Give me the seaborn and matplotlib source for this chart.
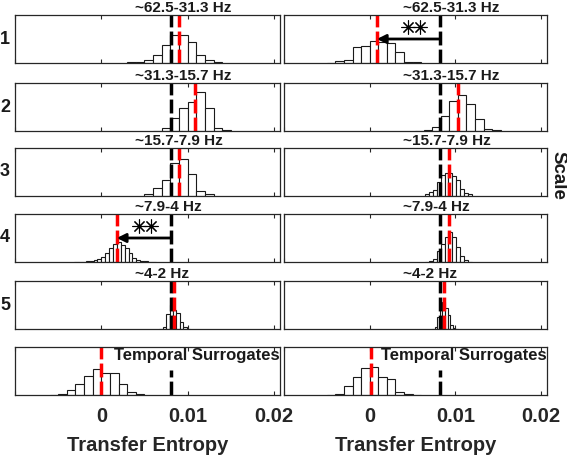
import numpy as np
import pandas as pd
import seaborn as sns
import matplotlib.pyplot as plt

sns.set_style("ticks")
plt.rcParams['font.family'] = ['Liberation Sans', 'DejaVu Sans']
plt.rcParams['font.weight'] = 'bold'

# panel titles (frequency bands) and row labels
bands = ['~62.5-31.3 Hz', '~31.3-15.7 Hz', '~15.7-7.9 Hz', '~7.9-4 Hz', '~4-2 Hz', 'Temporal Surrogates']
scale_labels = ['1', '2', '3', '4', '5']
xticks = [-0.01, 0, 0.01, 0.02]
xtick_labels = ['', '0', '0.01', '0.02']

# histograms: first bin edge, bin width, counts (in % of panel height)
left_start = [0.003, 0.006, 0.005, -0.00315, 0.0067, -0.006]
left_width = [0.001, 0.001, 0.001, 0.00045, 0.0004, 0.001]
left_counts = [
    [2, 2, 6, 16, 37, 59, 59, 43, 16, 7, 2],
    [1, 7, 28, 48, 60, 81, 48, 7, 2],
    [4, 16, 33, 68, 78, 45, 10, 4],
    [1, 1, 1, 2, 2, 4, 6, 11, 19, 29, 38, 41, 36, 30, 18, 9, 5, 3, 2, 1, 1],
    [1, 4, 32, 50, 40, 34, 15, 5, 1],
    [1, 3, 10, 23, 40, 54, 46, 45, 22, 6, 2],
]
left_obs = [0.009, 0.0108, 0.009, 0.0018, 0.0084, 0.0]
left_thresh = [0.0081, 0.0081, 0.0081, 0.0081, 0.0081, 0.0081]

right_start = [-0.005, 0.0053, 0.0065, 0.0065, 0.0073, -0.005]
right_width = [0.001, 0.001, 0.00045, 0.00045, 0.0003, 0.001]
right_counts = [
    [1, 4, 6, 34, 36, 45, 43, 42, 22, 3, 2],
    [1, 2, 8, 31, 63, 74, 56, 25, 5, 2],
    [4, 8, 12, 30, 44, 47, 47, 42, 34, 14, 6, 4],
    [1, 2, 6, 22, 38, 53, 62, 52, 32, 13, 4, 1],
    [1, 5, 26, 46, 57, 43, 29, 8, 3, 1],
    [1, 2, 18, 37, 57, 58, 37, 34, 6, 2, 1],
]
right_obs = [0.00085, 0.01035, 0.0093, 0.0093, 0.0087, 0.0002]
right_thresh = [0.0082, 0.0082, 0.0082, 0.0082, 0.0082, 0.0082]

# rows with a significant shift (arrow + stars)
left_sig = [3]
right_sig = [0]

W, H = 567, 457
fig = plt.figure(figsize=(W / 100, H / 100), dpi=100)

col_left = [15 / W, 284 / W]
col_w = [265 / W, 263 / W]
row_top = [15, 83, 148, 214, 281, 347]
panel_h = 48

columns = [
    (left_start, left_width, left_counts, left_obs, left_thresh, left_sig),
    (right_start, right_width, right_counts, right_obs, right_thresh, right_sig),
]

for c, (starts, widths, counts, obs, thresh, sig) in enumerate(columns):
    for r in range(6):
        ax = fig.add_axes([col_left[c], 1 - (row_top[r] + panel_h) / H, col_w[c], panel_h / H])
        edges = starts[r] + widths[r] * np.arange(len(counts[r]) + 1)
        df = pd.DataFrame({'te': edges[:-1] + widths[r] / 2, 'n': counts[r]})
        sns.histplot(data=df, x='te', weights='n', bins=list(edges), ax=ax,
                     color='white', edgecolor='#1a1a1a', linewidth=0.8, alpha=1)

        ymax = 0.52 if r == 5 else 1
        ax.axvline(thresh[r], ymax=ymax, color='black', lw=2.5, ls=(0, (4, 1.2)))
        ax.axvline(obs[r], color='red', lw=2.5, ls=(0, (4, 1.2)))

        if r in sig:
            ax.annotate('', xy=(obs[r], 50), xytext=(thresh[r], 50),
                        arrowprops=dict(arrowstyle='-|>', color='black', lw=2,
                                        mutation_scale=13, shrinkA=0, shrinkB=0))
            ax.plot([thresh[r] - 0.0037, thresh[r] - 0.0023], [75, 75], ls='none',
                    marker=(8, 2, 0), ms=10, mew=0.8, color='black')

        if r < 5:
            ax.text(0.0039, 101, bands[r], ha='left', va='bottom', fontsize=11,
                    fontweight='bold', color='#1a1a1a', clip_on=False)
        else:
            ax.text(0.0206, 83, bands[r], ha='right', va='center', fontsize=12,
                    fontweight='bold', color='#1a1a1a')

        ax.set_xlim(-0.01, 0.0207)
        ax.set_ylim(0, 100)
        ax.set_yticks([])
        ax.set_ylabel('')
        ax.set_xticks(xticks)
        ax.tick_params(axis='x', direction='in', top=True, bottom=True, length=3,
                       width=0.8, color='#262626', pad=9, labelsize=14.5,
                       labelbottom=(r == 5))
        if r == 5:
            ax.set_xticklabels(xtick_labels, fontweight='bold', color='#262626')
            ax.set_xlabel('Transfer Entropy', fontsize=14.5, fontweight='bold',
                          color='#262626', labelpad=7)
        else:
            ax.set_xlabel('')
        for sp in ax.spines.values():
            sp.set_visible(True)
            sp.set_color('#262626')
            sp.set_linewidth(0.9)

for r, lab in enumerate(scale_labels):
    fig.text(5 / W, 1 - (row_top[r] + panel_h / 2) / H, lab, ha='center', va='center',
             fontsize=13, fontweight='bold', color='#1a1a1a')

fig.text(558 / W, 1 - 175 / H, 'Scale', rotation=-90, ha='center', va='center',
         fontsize=13.5, fontweight='bold', color='#1a1a1a')

fig.savefig('out.png', dpi=100)
